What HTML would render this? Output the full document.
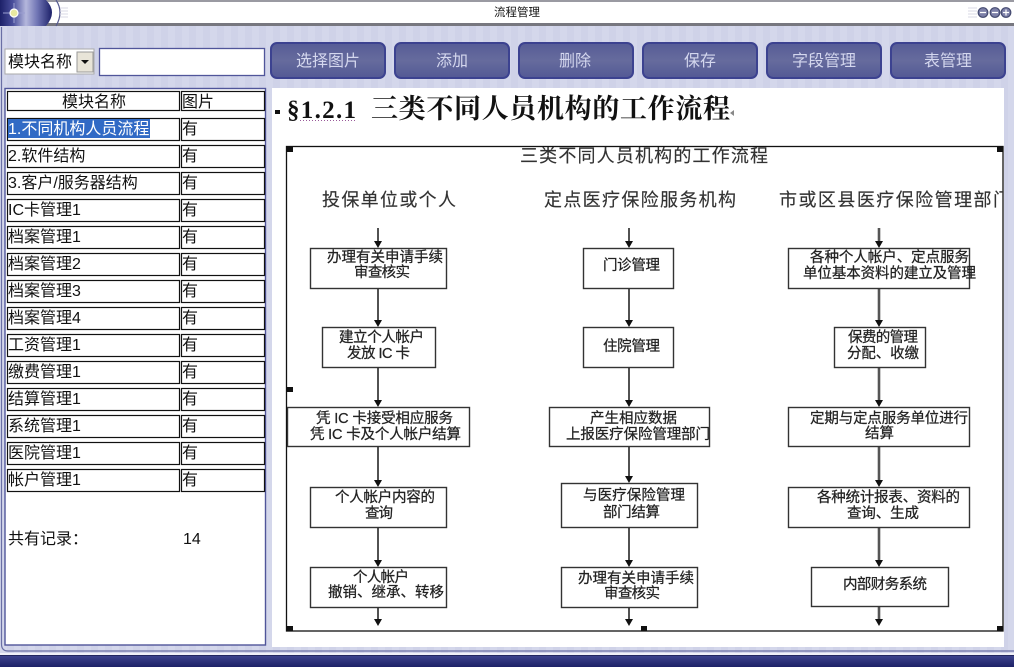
<!DOCTYPE html>
<html>
<head>
<meta charset="utf-8">
<style>
html,body{margin:0;padding:0;width:1014px;height:667px;overflow:hidden;background:#d3d6ea}
svg{display:block}
text{font-family:"Liberation Sans","WenQuanYi Zen Hei","Noto Sans CJK SC",sans-serif;white-space:pre}
.t{font-size:16px;fill:#111}
.f{font-size:14.5px;fill:#222;stroke:#222;stroke-width:.25;filter:url(#soft)}
.h{font-size:18px;fill:#333;stroke:#333;stroke-width:.15;filter:url(#soft)}
.b{font-size:16px;fill:#d4d7ee;text-anchor:middle}
.box{fill:#fff;stroke:#333;stroke-width:1.4}
.ln{stroke:#333;stroke-width:1.7}
.ln2{stroke:#555;stroke-width:2.6}
</style>
</head>
<body>
<svg width="1014" height="667" viewBox="0 0 1014 667" xmlns="http://www.w3.org/2000/svg">
<defs>
<linearGradient id="nav" x1="0" y1="0" x2="1" y2="0"><stop offset="0" stop-color="#1c2068"/><stop offset=".25" stop-color="#4a4f9c"/><stop offset=".5" stop-color="#b4b7dc"/><stop offset=".72" stop-color="#6f74b4"/><stop offset="1" stop-color="#1c2068"/></linearGradient>
<linearGradient id="btn" x1="0" y1="0" x2="0" y2="1"><stop offset="0" stop-color="#565c96"/><stop offset=".5" stop-color="#666b9d"/><stop offset="1" stop-color="#535995"/></linearGradient>
<linearGradient id="foot" x1="0" y1="0" x2="0" y2="1"><stop offset="0" stop-color="#3f4590"/><stop offset="1" stop-color="#1d2167"/></linearGradient>
<pattern id="stripe" width="14" height="14" patternUnits="userSpaceOnUse"><rect width="14" height="14" fill="#d4d7eb"/><rect x="7" width="7" height="14" fill="#cfd2e8"/></pattern>
<filter id="soft" x="-5%" y="-20%" width="110%" height="140%"><feGaussianBlur stdDeviation="0.3"/></filter>
<clipPath id="imgclip"><rect x="287" y="147" width="716" height="484"/></clipPath>
</defs>

<rect width="1014" height="667" fill="url(#stripe)"/>
<path d="M1.500 27V644Q1.500 651 8 651H1014" fill="none" stroke="#6a6fa5" stroke-width="1.200"/>
<!-- title bar -->
<rect x="0" y="0" width="1014" height="24" fill="#fff"/>
<rect x="0" y="0" width="1014" height="2" fill="#9a9aa2"/>
<rect x="0" y="23" width="1014" height="3" fill="#77777f"/>
<path d="M0 0H46Q58 12 46 26H0Z" fill="url(#nav)"/>
<path d="M56 0Q64 12 56 26" fill="none" stroke="#55598f" stroke-width="1.200"/>
<g stroke="#d8d8e4" stroke-width="1"><line x1="60" y1="8" x2="68" y2="8"/><line x1="60" y1="11" x2="68" y2="11"/><line x1="60" y1="14" x2="68" y2="14"/><line x1="60" y1="17" x2="68" y2="17"/></g>
<path d="M3 13H25M14 3V23" stroke="#9a9ed0" stroke-width="1"/>
<circle cx="14" cy="13" r="4" fill="#e8e8a0" stroke="#fff" stroke-width="1.200"/>
<text x="517" y="16" style="font-size:11.5px;fill:#111" text-anchor="middle">流程管理</text>
<g stroke="#d8d8e4" stroke-width="1"><line x1="968" y1="8" x2="977" y2="8"/><line x1="968" y1="11" x2="977" y2="11"/><line x1="968" y1="14" x2="977" y2="14"/><line x1="968" y1="17" x2="977" y2="17"/></g>
<g fill="#7d80a8" stroke="#444a70" stroke-width="1.200">
<circle cx="983" cy="12.500" r="4.800"/><circle cx="995" cy="12.500" r="4.800"/><circle cx="1006" cy="12.500" r="4.800"/>
</g>
<path d="M980 12.500h6M992 12.500h6M1003 12.500h6M1006 9.500v6" stroke="#fff" stroke-width="1.200"/>

<!-- top controls -->
<rect x="5" y="49" width="89" height="25" fill="#fff" stroke="#aaa"/>
<text x="8" y="67" style="font-size:16px;fill:#111">模块名称</text>
<rect x="77" y="52" width="16" height="20" fill="#e8e4d8" stroke="#999"/>
<path d="M81 60h8l-4 4z" fill="#111"/>
<rect x="99.500" y="48.500" width="165" height="27" fill="#fff" stroke="#50559a" stroke-width="1.300"/>

<!-- buttons -->
<g fill="url(#btn)" stroke="#3c4290" stroke-width="2">
<rect x="271" y="43" width="114" height="35" rx="6"/>
<rect x="395" y="43" width="114" height="35" rx="6"/>
<rect x="519" y="43" width="114" height="35" rx="6"/>
<rect x="643" y="43" width="114" height="35" rx="6"/>
<rect x="767" y="43" width="114" height="35" rx="6"/>
<rect x="891" y="43" width="114" height="35" rx="6"/>
</g>
<text class="b" x="328" y="66">选择图片</text>
<text class="b" x="452" y="66">添加</text>
<text class="b" x="575" y="66">删除</text>
<text class="b" x="700" y="66">保存</text>
<text class="b" x="824" y="66">字段管理</text>
<text class="b" x="948" y="66">表管理</text>

<!-- left panel -->
<rect x="5" y="88.500" width="260.500" height="556.500" fill="#fff" stroke="#50559a" stroke-width="1.400"/>
<g fill="none" stroke="#111" stroke-width="1.200">
<rect x="7.500" y="91.500" width="172" height="19"/><rect x="181.500" y="91.500" width="83" height="19"/>
<rect x="7.500" y="118.500" width="172" height="22"/><rect x="181.500" y="118.500" width="83" height="22"/>
<rect x="7.500" y="145.500" width="172" height="22"/><rect x="181.500" y="145.500" width="83" height="22"/>
<rect x="7.500" y="172.500" width="172" height="22"/><rect x="181.500" y="172.500" width="83" height="22"/>
<rect x="7.500" y="199.500" width="172" height="22"/><rect x="181.500" y="199.500" width="83" height="22"/>
<rect x="7.500" y="226.500" width="172" height="22"/><rect x="181.500" y="226.500" width="83" height="22"/>
<rect x="7.500" y="253.500" width="172" height="22"/><rect x="181.500" y="253.500" width="83" height="22"/>
<rect x="7.500" y="280.500" width="172" height="22"/><rect x="181.500" y="280.500" width="83" height="22"/>
<rect x="7.500" y="307.500" width="172" height="22"/><rect x="181.500" y="307.500" width="83" height="22"/>
<rect x="7.500" y="334.500" width="172" height="22"/><rect x="181.500" y="334.500" width="83" height="22"/>
<rect x="7.500" y="361.500" width="172" height="22"/><rect x="181.500" y="361.500" width="83" height="22"/>
<rect x="7.500" y="388.500" width="172" height="22"/><rect x="181.500" y="388.500" width="83" height="22"/>
<rect x="7.500" y="415.500" width="172" height="22"/><rect x="181.500" y="415.500" width="83" height="22"/>
<rect x="7.500" y="442.500" width="172" height="22"/><rect x="181.500" y="442.500" width="83" height="22"/>
<rect x="7.500" y="469.500" width="172" height="22"/><rect x="181.500" y="469.500" width="83" height="22"/>
</g>
<rect x="8" y="119" width="142" height="19" fill="#316ac5"/>
<text class="t" x="62" y="107">模块名称</text><text class="t" x="182" y="107">图片</text>
<text class="t" x="8" y="134" style="fill:#fff">1.不同机构人员流程</text><text class="t" x="182" y="134">有</text>
<text class="t" x="8" y="161">2.软件结构</text><text class="t" x="182" y="161">有</text>
<text class="t" x="8" y="188">3.客户/服务器结构</text><text class="t" x="182" y="188">有</text>
<text class="t" x="8" y="215">IC卡管理1</text><text class="t" x="182" y="215">有</text>
<text class="t" x="8" y="242">档案管理1</text><text class="t" x="182" y="242">有</text>
<text class="t" x="8" y="269">档案管理2</text><text class="t" x="182" y="269">有</text>
<text class="t" x="8" y="296">档案管理3</text><text class="t" x="182" y="296">有</text>
<text class="t" x="8" y="323">档案管理4</text><text class="t" x="182" y="323">有</text>
<text class="t" x="8" y="350">工资管理1</text><text class="t" x="182" y="350">有</text>
<text class="t" x="8" y="377">缴费管理1</text><text class="t" x="182" y="377">有</text>
<text class="t" x="8" y="404">结算管理1</text><text class="t" x="182" y="404">有</text>
<text class="t" x="8" y="431">系统管理1</text><text class="t" x="182" y="431">有</text>
<text class="t" x="8" y="458">医院管理1</text><text class="t" x="182" y="458">有</text>
<text class="t" x="8" y="485">帐户管理1</text><text class="t" x="182" y="485">有</text>
<text class="t" x="8" y="544">共有记录：</text><text class="t" x="183" y="544">14</text>

<!-- right panel -->
<rect x="272" y="88" width="732" height="559" fill="#fff"/>
<rect x="275" y="110" width="5" height="4" fill="#111"/>
<text x="287" y="118" style="font-family:'Liberation Serif',serif;font-size:25px;font-weight:bold;fill:#111" textLength="69">§1.2.1</text>
<line x1="300" y1="120.500" x2="356" y2="120.500" stroke="#9a5a9a" stroke-dasharray="1 2"/>
<text x="371" y="118" style="font-size:27px;font-weight:bold;fill:#111;font-family:'Noto Serif CJK SC','Noto Sans CJK SC',serif" textLength="359">三类不同人员机构的工作流程</text>

<!-- flow image -->
<rect x="286.500" y="146.500" width="716.500" height="484.500" fill="#fff" stroke="#111" stroke-width="1.300"/>
<g clip-path="url(#imgclip)">
<text class="h" x="520" y="162" textLength="248">三类不同人员机构的工作流程</text>
<text class="h" x="322" y="206" textLength="134">投保单位或个人</text>
<text class="h" x="544" y="206" textLength="192">定点医疗保险服务机构</text>
<text class="h" x="779" y="206" textLength="232">市或区县医疗保险管理部门</text>

<!-- connectors -->
<g class="ln">
<line x1="378" y1="228" x2="378" y2="244"/><line x1="378" y1="289" x2="378" y2="323"/>
<line x1="378" y1="367" x2="378" y2="403"/><line x1="378" y1="447" x2="378" y2="483"/>
<line x1="378" y1="527" x2="378" y2="563"/><line x1="378" y1="607" x2="378" y2="620"/>
<line x1="629" y1="228" x2="629" y2="244"/><line x1="629" y1="289" x2="629" y2="323"/>
<line x1="629" y1="367" x2="629" y2="403"/><line x1="629" y1="447" x2="629" y2="479"/>
<line x1="629" y1="527" x2="629" y2="563"/><line x1="629" y1="607" x2="629" y2="620"/>
</g>
<g class="ln2">
<line x1="879" y1="228" x2="879" y2="244"/><line x1="879" y1="289" x2="879" y2="323"/>
<line x1="879" y1="367" x2="879" y2="403"/><line x1="879" y1="447" x2="879" y2="483"/>
<line x1="879" y1="527" x2="879" y2="563"/><line x1="879" y1="607" x2="879" y2="620"/>
</g>
<g fill="#111">
<path d="M374 241h8l-4 7zM374 320h8l-4 7zM374 400h8l-4 7zM374 480h8l-4 7zM374 560h8l-4 7zM374 619h8l-4 7z"/>
<path d="M625 241h8l-4 7zM625 320h8l-4 7zM625 400h8l-4 7zM625 476h8l-4 7zM625 560h8l-4 7zM625 619h8l-4 7z"/>
<path d="M875 241h8l-4 7zM875 320h8l-4 7zM875 400h8l-4 7zM875 480h8l-4 7zM875 560h8l-4 7zM875 619h8l-4 7z"/>
</g>

<!-- boxes -->
<rect class="box" x="310.500" y="248.500" width="136" height="40"/>
<rect class="box" x="322.500" y="327.500" width="113" height="40"/>
<rect class="box" x="287.500" y="407.500" width="182" height="39"/>
<rect class="box" x="310.500" y="487.500" width="136" height="40"/>
<rect class="box" x="310.500" y="567.500" width="136" height="40"/>
<rect class="box" x="583.500" y="248.500" width="90" height="40"/>
<rect class="box" x="583.500" y="327.500" width="90" height="40"/>
<rect class="box" x="549.500" y="407.500" width="160" height="39"/>
<rect class="box" x="561.500" y="483.500" width="136" height="44"/>
<rect class="box" x="561.500" y="567.500" width="136" height="40"/>
<rect class="box" x="788.500" y="248.500" width="181" height="40"/>
<rect class="box" x="834.500" y="327.500" width="91" height="40"/>
<rect class="box" x="788.500" y="407.500" width="181" height="39"/>
<rect class="box" x="788.500" y="487.500" width="181" height="40"/>
<rect class="box" x="811.500" y="567.500" width="137" height="39"/>

<!-- box labels -->
<text class="f" x="327" y="262" textLength="116">办理有关申请手续</text>
<text class="f" x="354" y="277" textLength="56">审查核实</text>
<text class="f" x="339" y="342" textLength="85">建立个人帐户</text>
<text class="f" x="347" y="358" textLength="63">发放 IC 卡</text>
<text class="f" x="316" y="423" textLength="137">凭 IC 卡接受相应服务</text>
<text class="f" x="310" y="439" textLength="151">凭 IC 卡及个人帐户结算</text>
<text class="f" x="335" y="502" textLength="100">个人帐户内容的</text>
<text class="f" x="365" y="518" textLength="28">查询</text>
<text class="f" x="353" y="582" textLength="56">个人帐户</text>
<text class="f" x="328" y="597" textLength="116">撤销、继承、转移</text>

<text class="f" x="603" y="270" textLength="57">门诊管理</text>
<text class="f" x="603" y="351" textLength="57">住院管理</text>
<text class="f" x="590" y="423" textLength="87">产生相应数据</text>
<text class="f" x="566" y="439" textLength="144">上报医疗保险管理部门</text>
<text class="f" x="583" y="500" textLength="102">与医疗保险管理</text>
<text class="f" x="603" y="517" textLength="57">部门结算</text>
<text class="f" x="578" y="583" textLength="116">办理有关申请手续</text>
<text class="f" x="604" y="598" textLength="56">审查核实</text>

<text class="f" x="810" y="262" textLength="159">各种个人帐户、定点服务</text>
<text class="f" x="803" y="278" textLength="173">单位基本资料的建立及管理</text>
<text class="f" x="848" y="342" textLength="70">保费的管理</text>
<text class="f" x="847" y="358" textLength="72">分配、收缴</text>
<text class="f" x="810" y="423" textLength="158">定期与定点服务单位进行</text>
<text class="f" x="865" y="438" textLength="29">结算</text>
<text class="f" x="817" y="502" textLength="143">各种统计报表、资料的</text>
<text class="f" x="847" y="518" textLength="72">查询、生成</text>
<text class="f" x="843" y="589" textLength="84">内部财务系统</text>
</g>

<!-- resize handles -->
<g fill="#111">
<rect x="287" y="147" width="6" height="5"/><rect x="287" y="387" width="6" height="5"/>
<rect x="287" y="626" width="6" height="5"/><rect x="641" y="626" width="6" height="5"/>
<rect x="997" y="147" width="6" height="5"/><rect x="997" y="626" width="6" height="5"/>
</g>
<path d="M730 113l4-3v6z" fill="#888"/>

<!-- footer -->
<rect x="0" y="653" width="1014" height="2" fill="#f0f0f8"/>
<rect x="0" y="655" width="1014" height="12" fill="url(#foot)"/>
<rect x="0" y="655" width="1014" height="1" fill="#22265f"/>
</svg>
</body>
</html>
